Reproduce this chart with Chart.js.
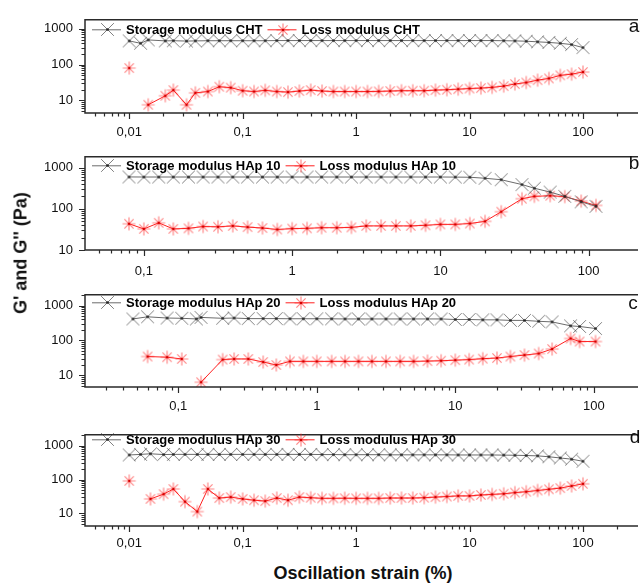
<!DOCTYPE html>
<html>
<head>
<meta charset="utf-8">
<script src="https://cdn.jsdelivr.net/npm/chart.js@4.4.0/dist/chart.umd.min.js"></script>
<style>
  body { margin: 0; background: #fff; }
  #wrap { position: relative; width: 643px; height: 586px; overflow: hidden; font-family: "Liberation Sans", Arial, sans-serif; color: #111; }
  canvas { position: absolute; left: 0; }
  .letter { position: absolute; font-size: 19px; line-height: 19px; transform: translate(-50%, -50%); }
  #xtitle { position: absolute; left: 363px; top: 573px; transform: translate(-50%, -50%); font-weight: bold; font-size: 18px; white-space: nowrap; }
  #ytitle { position: absolute; left: 21px; top: 253px; transform: translate(-50%, -50%) rotate(-90deg); font-weight: bold; font-size: 18px; white-space: nowrap; }
</style>
</head>
<body>
<div id="wrap">
  <canvas id="pa" width="643" height="143" style="top:0px"></canvas>
  <canvas id="pb" width="643" height="143" style="top:137px"></canvas>
  <canvas id="pc" width="643" height="142" style="top:275px"></canvas>
  <canvas id="pd" width="643" height="141" style="top:415px"></canvas>
  <div class="letter" style="left:634px;top:25px">a</div>
  <div class="letter" style="left:634px;top:162px">b</div>
  <div class="letter" style="left:633px;top:302px">c</div>
  <div class="letter" style="left:635px;top:436px">d</div>
  <div id="xtitle">Oscillation strain (%)</div>
  <div id="ytitle">G' and G'' (Pa)</div>
</div>
<script>
// panel a: CHT
const strainA = [0.01, 0.0126, 0.0147, 0.0208, 0.0245, 0.032, 0.0383, 0.0493, 0.0622, 0.0785,
  0.1, 0.126, 0.158, 0.2, 0.251, 0.316, 0.398, 0.501, 0.631, 0.794,
  1, 1.26, 1.58, 2, 2.51, 3.16, 3.98, 5.01, 6.31, 7.94,
  10, 12.6, 15.8, 20, 25.1, 31.6, 39.8, 50.1, 63.1, 79.4, 100];
const storageA = [460, 394, 490, 460, 465, 455, 460, 465, 465, 465,
  465, 465, 465, 470, 470, 470, 470, 470, 470, 470,
  470, 470, 470, 470, 470, 470, 470, 470, 470, 470,
  470, 470, 470, 465, 460, 451, 433, 417, 394, 363, 299];
const lossA = [80, null, 7.5, 13.4, 19.3, 7.5, 16.2, 17.6, 24, 22.6,
  18.6, 17.6, 19, 17.6, 17, 18.2, 19.3, 18.2, 17.6, 17.6,
  17.6, 17.6, 17.8, 18.2, 18.6, 18.6, 18.6, 19.3, 19.8, 20.5,
  21.4, 22, 23, 25, 28.6, 31.5, 36.7, 41, 50, 54, 62];

// panel b: HAp 10
const strainB = [0.0794, 0.1, 0.126, 0.158, 0.2, 0.251, 0.316, 0.398, 0.501, 0.631,
  0.794, 1, 1.26, 1.58, 2, 2.51, 3.16, 3.98, 5.01, 6.31,
  7.94, 10, 12.6, 15.8, 20, 25.7, 35.5, 43, 55, 69, 89, 112];
const storageB = [595, 593, 593, 593, 593, 593, 593, 593, 593, 593,
  593, 593, 593, 593, 593, 593, 593, 593, 593, 593,
  593, 593, 590, 585, 553, 509, 388, 317, 255, 201, 148, 115];
const lossB = [43.4, 32.5, 45.7, 32.5, 33.6, 37.2, 36.6, 38.5, 36, 34.2,
  31.5, 33.1, 33.6, 34.8, 34.8, 35.4, 38.5, 38.5, 38.5, 38.5,
  39.8, 41.9, 41.9, 44, 49.6, 85, 176, 201, 208, 198, 154, 121];

// panel c: HAp 20
const strainC = [0.047, 0.06, 0.083, 0.106, 0.135, 0.146, 0.209, 0.253, 0.32, 0.41,
  0.51, 0.64, 0.8, 1, 1.28, 1.6, 2, 2.5, 3.16, 4,
  5, 6.3, 7.9, 10, 12.6, 15.8, 20, 25, 31.6, 40, 50, 68, 79, 103];
const storageC = [415, 478, 441, 433, 415, 459, 433, 441, 424, 424,
  424, 420, 420, 420, 418, 415, 415, 415, 415, 415,
  415, 415, 415, 400, 400, 391, 391, 377, 377, 355, 341, 263, 252, 220];
const lossC = [null, 34.5, 33, 29.4, null, 6.3, 28.2, 29.4, 29.4, 24,
  19.7, 25, 25, 25, 25, 25, 25, 25, 25, 25,
  25, 25.5, 26.1, 27.1, 28.2, 29.9, 31.2, 34.5, 38, 42, 56.6, 114, 93, 93];

// panel d: HAp 30
const strainD = [0.01, 0.0126, 0.0154, 0.0201, 0.0245, 0.031, 0.0398, 0.0493, 0.0622, 0.0785,
  0.1, 0.126, 0.158, 0.2, 0.251, 0.316, 0.398, 0.501, 0.631, 0.794,
  1, 1.26, 1.58, 2, 2.51, 3.16, 3.98, 5.01, 6.31, 7.94,
  10, 12.6, 15.8, 20, 25.1, 31.6, 39.8, 50.1, 63.1, 79.4, 100];
const storageD = [530, 552, 575, 545, 552, 552, 552, 552, 552, 552,
  552, 552, 552, 552, 552, 552, 552, 545, 545, 540,
  540, 540, 540, 535, 535, 535, 535, 535, 535, 530,
  530, 530, 530, 525, 520, 510, 499, 469, 432, 398, 345];
const lossD = [91, null, 26.7, 37, 52.5, 22.2, 11.3, 52.5, 28.4, 30.2,
  26.7, 24.5, 23.1, 28.4, 24.5, 30.2, 29, 27.8, 27.8, 28,
  27.8, 27.8, 27.8, 28.4, 28.4, 28.4, 29, 30.2, 31.5, 32.8,
  32.8, 34.9, 36.3, 37.9, 41, 43.6, 47.4, 51.5, 55.8, 64.5, 74.5];

const FONT = 'Liberation Sans';
const STORAGE_LINE = '#6b6b6b';
const LOSS_LINE = '#ff2020';

function isDecade(v) {
  const l = Math.log10(v);
  return Math.abs(l - Math.round(l)) < 1e-6;
}

function decadeTicks(scale) {
  const out = [];
  for (let n = Math.floor(Math.log10(scale.min)); n <= Math.ceil(Math.log10(scale.max)); n++) {
    const v = Math.pow(10, n);
    if (v >= scale.min * 0.999 && v <= scale.max * 1.001) out.push({ value: v });
  }
  scale.ticks = out;
}

function allTicks(min, max) {
  const out = [];
  for (let n = Math.floor(Math.log10(min)); n <= Math.ceil(Math.log10(max)); n++) {
    for (let k = 1; k <= 9; k++) {
      const v = k * Math.pow(10, n);
      if (v >= min * 0.999 && v <= max * 1.001) out.push(v);
    }
  }
  return out;
}

function fmt(v) {
  return isDecade(v) ? String(+v.toPrecision(6)).replace('.', ',') : '';
}

// marker images: X (storage) and asterisk (loss), each with a small dark centre dot
function markerImage(star, r, stroke, width, dot) {
  const size = Math.ceil(r * 2 + 3);
  const c = document.createElement('canvas');
  c.width = size; c.height = size;
  const g = c.getContext('2d');
  const m = size / 2, d = r * Math.SQRT1_2;
  g.strokeStyle = stroke;
  g.lineWidth = width;
  g.beginPath();
  if (star) {
    g.moveTo(m - r, m); g.lineTo(m + r, m);
    g.moveTo(m, m - r); g.lineTo(m, m + r);
  }
  g.moveTo(m - d, m - d); g.lineTo(m + d, m + d);
  g.moveTo(m - d, m + d); g.lineTo(m + d, m - d);
  g.stroke();
  g.fillStyle = dot;
  g.beginPath();
  g.arc(m, m, 1.3, 0, Math.PI * 2);
  g.fill();
  return c;
}
const storageMark = markerImage(false, 9, 'rgba(50,50,50,0.62)', 1, '#222');
const lossMark = markerImage(true, 6.5, 'rgba(255,40,40,0.55)', 1.2, '#d40000');

const framePlugin = {
  id: 'frame',
  afterDraw(chart, args, opts) {
    const ctx = chart.ctx, a = chart.chartArea;
    const xs = chart.scales.x, ys = chart.scales.y;
    ctx.save();
    ctx.strokeStyle = '#2a2a2a';
    ctx.lineWidth = 1.5;
    ctx.beginPath();
    ctx.moveTo(a.right + 5, a.top);
    ctx.lineTo(a.left, a.top);
    ctx.lineTo(a.left, a.bottom);
    ctx.lineTo(a.right + 5, a.bottom);
    ctx.stroke();

    ctx.lineWidth = 1.2;
    ctx.beginPath();
    allTicks(xs.min, xs.max).forEach(v => {
      const px = Math.round(xs.getPixelForValue(v)) + 0.5;
      ctx.moveTo(px, a.bottom);
      ctx.lineTo(px, a.bottom + (isDecade(v) ? 6 : 3.5));
    });
    allTicks(ys.min, ys.max).forEach(v => {
      const py = Math.round(ys.getPixelForValue(v)) + 0.5;
      ctx.moveTo(a.left, py);
      ctx.lineTo(a.left - (isDecade(v) ? 6 : 3.5), py);
    });
    ctx.stroke();

    // legend inside the plot, top left
    const ly = a.top + opts.dy;
    ctx.font = 'bold 13px "' + FONT + '"';
    ctx.textBaseline = 'middle';
    ctx.fillStyle = '#000';
    let x = a.left + 7;
    chart.data.datasets.forEach(ds => {
      ctx.strokeStyle = ds.borderColor;
      ctx.lineWidth = 1;
      ctx.beginPath();
      ctx.moveTo(x, ly); ctx.lineTo(x + 29, ly);
      ctx.stroke();
      const img = ds.pointStyle;
      ctx.drawImage(img, Math.round(x + 15 - img.width / 2), Math.round(ly - img.height / 2));
      x += 34;
      ctx.fillText(ds.label, x, ly + 0.5);
      x += ctx.measureText(ds.label).width + 5;
    });
    ctx.restore();
  }
};

function makePanel(canvasId, strain, storage, loss, name, xRange, yRange, labelPad, legendDy) {
  const toPts = vals => strain.map((s, i) => ({ x: s, y: vals[i] }));
  const tickFont = { family: FONT, size: 13 };
  new Chart(document.getElementById(canvasId), {
    type: 'line',
    data: {
      datasets: [{
          label: 'Storage modulus ' + name,
          data: toPts(storage),
          borderColor: STORAGE_LINE,
          borderWidth: 1,
          pointStyle: storageMark,
          pointRadius: 9
        },
        {
          label: 'Loss modulus ' + name,
          data: toPts(loss),
          borderColor: LOSS_LINE,
          borderWidth: 1,
          pointStyle: lossMark,
          pointRadius: 7
        }
      ]
    },
    options: {
      responsive: false,
      animation: false,
      events: [],
      layout: { padding: { top: 10, left: 0, right: 0, bottom: 0 } },
      scales: {
        x: {
          type: 'logarithmic',
          min: xRange[0],
          max: xRange[1],
          afterFit: s => { s.height = 30; },
          afterBuildTicks: decadeTicks,
          grid: { display: false, drawTicks: false },
          border: { display: false },
          ticks: { autoSkip: false, maxRotation: 0, padding: labelPad, color: '#111', font: tickFont, callback: fmt }
        },
        y: {
          type: 'logarithmic',
          min: yRange[0],
          max: yRange[1],
          afterFit: s => { s.width = 85; },
          afterBuildTicks: decadeTicks,
          grid: { display: false, drawTicks: false },
          border: { display: false },
          ticks: { autoSkip: false, padding: 12, color: '#111', font: tickFont, callback: fmt }
        }
      },
      plugins: {
        legend: { display: false },
        tooltip: { enabled: false },
        frame: { dy: legendDy }
      }
    },
    plugins: [framePlugin]
  });
}

makePanel('pa', strainA, storageA, lossA, 'CHT', [0.004076, 276], [4.42, 1791], 12, 10);
makePanel('pb', strainB, storageB, lossB, 'HAp 10', [0.0401, 199], [10, 1836], 14, 9);
makePanel('pc', strainC, storageC, lossC, 'HAp 20', [0.0212, 192], [4.59, 2051], 12, 8);
makePanel('pd', strainD, storageD, lossD, 'HAp 30', [0.004076, 276], [4.24, 2089], 9.5, 5);
</script>
</body>
</html>
